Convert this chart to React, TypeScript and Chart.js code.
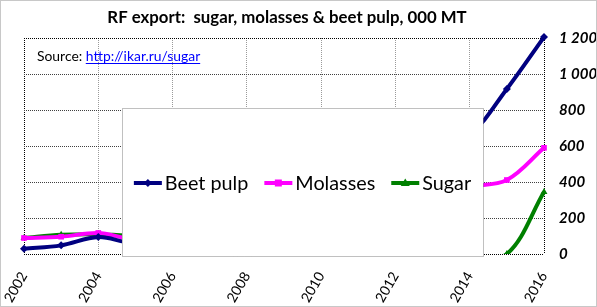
import React, { useEffect, useRef } from "react";
import { Chart, registerables } from "chart.js";

Chart.register(...registerables);

const years = [2002, 2003, 2004, 2005, 2006, 2007, 2008, 2009, 2010, 2011, 2012, 2013, 2014, 2015, 2016];
const beetPulp = [29, 48, 94, 65, 150, 230, 280, 380, 300, 520, 640, 600, 665, 917, 1205];
const molasses = [89, 96, 117, 85, 150, 210, 190, 260, 180, 300, 350, 330, 375, 411, 590];
const sugar = [89, 107, 110, 105, 150, 120, 130, 200, 80, 250, 160, 40, 0, 0, 344];
const seriesNames = ["Beet pulp", "Molasses", "Sugar"];
const seriesColors = ["#000080", "#FF00FF", "#008000"];
const pointStyles = ["rectRot", "rect", "triangle"];
const titleText = "RF export:  sugar, molasses & beet pulp, 000 MT";
const sourceLabel = "Source: ";
const sourceUrl = "http://ikar.ru/sugar";

const FONT = "Lato, 'Open Sans', sans-serif";

const overlayPlugin = {
  id: "overlay",
  afterDraw(chart: any) {
    const ctx = chart.ctx as CanvasRenderingContext2D;
    ctx.save();
    // Title
    ctx.font = `bold 16.8px ${FONT}`;
    ctx.fillStyle = "#000";
    ctx.textAlign = "center";
    ctx.textBaseline = "middle";
    ctx.fillText(titleText, 286, 17);

    // Source
    ctx.font = `13.9px ${FONT}`;
    ctx.textAlign = "left";
    ctx.textBaseline = "alphabetic";
    ctx.fillText(sourceLabel, 36, 60);
    const w1 = ctx.measureText(sourceLabel).width;
    ctx.fillStyle = "#0000FF";
    ctx.fillText(sourceUrl, 36 + w1, 60);
    const w2 = ctx.measureText(sourceUrl).width;
    ctx.fillRect(36 + w1, 62, w2, 1);

    // Legend box
    const bx = 121, by = 107, bw = 361, bh = 148;
    ctx.fillStyle = "#fff";
    ctx.fillRect(bx, by, bw, bh);
    ctx.strokeStyle = "#808080";
    ctx.lineWidth = 1;
    ctx.setLineDash([1, 1]);
    ctx.strokeRect(bx + 0.5, by + 0.5, bw, bh);
    ctx.setLineDash([]);

    ctx.font = `19.8px ${FONT}`;
    const sample = 28, gapText = 3, gapItem = 16;
    const widths = seriesNames.map((n) => ctx.measureText(n).width);
    const total = widths.reduce((a, b) => a + b, 0) + seriesNames.length * (sample + gapText) + (seriesNames.length - 1) * gapItem;
    let x = bx + bw / 2 - total / 2;
    const cy = 182;
    chart.data.datasets.forEach((ds: any, i: number) => {
      ctx.strokeStyle = ds.borderColor;
      ctx.lineWidth = 4;
      ctx.beginPath();
      ctx.moveTo(x, cy);
      ctx.lineTo(x + sample, cy);
      ctx.stroke();
      ctx.fillStyle = ds.borderColor;
      const mx = x + sample / 2;
      ctx.beginPath();
      if (ds.pointStyle === "rectRot") {
        ctx.moveTo(mx, cy - 4); ctx.lineTo(mx + 4, cy); ctx.lineTo(mx, cy + 4); ctx.lineTo(mx - 4, cy);
      } else if (ds.pointStyle === "rect") {
        ctx.rect(mx - 3.5, cy - 3.5, 7, 7);
      } else {
        ctx.moveTo(mx, cy - 4.5); ctx.lineTo(mx + 4.5, cy + 3); ctx.lineTo(mx - 4.5, cy + 3);
      }
      ctx.closePath();
      ctx.fill();
      ctx.fillStyle = "#000";
      ctx.textBaseline = "middle";
      ctx.textAlign = "left";
      ctx.fillText(seriesNames[i], x + sample + gapText, cy + 1);
      x += sample + gapText + widths[i] + gapItem;
    });
    ctx.restore();
  },
};

export default function App() {
  const ref = useRef<HTMLCanvasElement | null>(null);
  useEffect(() => {
    document.body.style.margin = "0";
    const mk = (vals: (number | null)[]) => years.map((y, i) => ({ x: y, y: vals[i] }));
    const all = [beetPulp, molasses, sugar];
    const chart = new Chart(ref.current as HTMLCanvasElement, {
      type: "line",
      data: {
        datasets: all.map((vals, i) => ({
          label: seriesNames[i],
          data: mk(vals),
          borderColor: seriesColors[i],
          backgroundColor: seriesColors[i],
          borderWidth: 4,
          pointStyle: pointStyles[i],
          pointRadius: 4,
          pointBorderWidth: 0,
          tension: 0.35,
          spanGaps: false,
          capBezierPoints: i !== 2,
          clip: i === 2 ? { left: 4, right: 4, top: 4, bottom: 0 } : 5,
        })),
      },
      options: {
        animation: false,
        responsive: false,
        maintainAspectRatio: false,
        events: [],
        layout: { padding: { left: 23, top: 37, right: 0, bottom: 0 } },
        plugins: { legend: { display: false }, tooltip: { enabled: false }, title: { display: false } },
        scales: {
          x: {
            type: "linear",
            min: 2002,
            max: 2016,
            afterFit: (s: any) => { s.height = 52; s.paddingLeft = 0; s.paddingRight = 0; },
            ticks: {
              stepSize: 2,
              autoSkip: false,
              minRotation: 60,
              maxRotation: 60,
              padding: 15,
              color: "#000",
              font: { family: FONT, size: 14 },
              callback: (v: any) => String(v),
            },
            grid: {
              drawTicks: false,
              color: (c: any) => (c.index === 0 || c.index === 7 ? "#000" : "#9a9a9a"),
              lineWidth: 1,
            },
            border: { display: false, dash: [1, 1] },
          },
          y: {
            position: "right",
            min: 0,
            max: 1200,
            afterFit: (s: any) => { s.width = 52; s.paddingTop = 0; s.paddingBottom = 0; },
            ticks: {
              stepSize: 200,
              padding: 15,
              color: "#000",
              font: { family: FONT, size: 15, style: "italic", weight: "bold" },
              callback: (v: any) => String(v).replace(/\B(?=(\d{3})+(?!\d))/g, " "),
            },
            grid: {
              drawTicks: false,
              color: (c: any) => (c.index === 0 || c.index === 6 ? "#000" : "#404040"),
              lineWidth: 1,
            },
            border: { display: false, dash: [1, 1] },
          },
        },
      },
      plugins: [overlayPlugin],
    } as any);
    return () => chart.destroy();
  }, []);
  return (
    <div style={{ width: 597, height: 307, boxSizing: "border-box", border: "1px solid #c8c8c8", background: "#fff" }}>
      <canvas ref={ref} width={595} height={305} style={{ display: "block" }} />
    </div>
  );
}
